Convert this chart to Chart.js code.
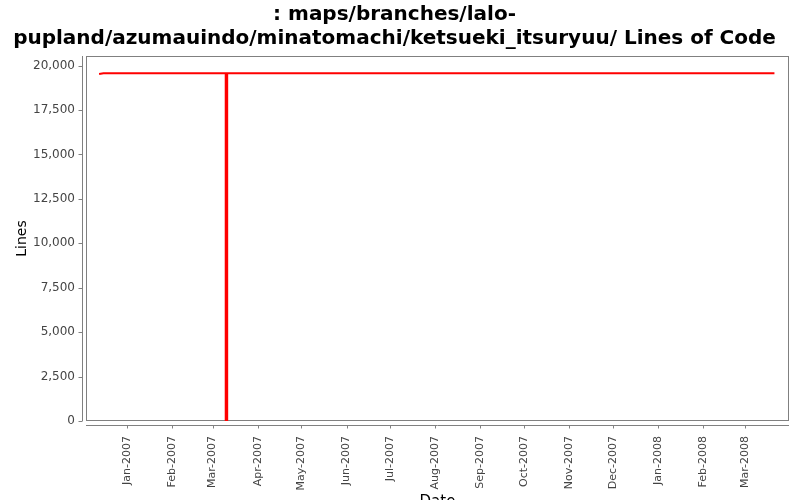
<!DOCTYPE html>
<html>
<head>
<meta charset="utf-8">
<script src="https://cdn.jsdelivr.net/npm/chart.js@4"></script>
<style>
  html, body { margin: 0; padding: 0; overflow: hidden; background: #fff; }
</style>
</head>
<body>
<canvas id="locChart" width="800" height="530"></canvas>
<script>

// chart data
const titleLines = [': maps/branches/lalo-', 'pupland/azumauindo/minatomachi/ketsueki_itsuryuu/ Lines of Code'];
const dates = ['2006-12-13', '2006-12-16', '2007-03-10', '2007-03-10', '2007-03-11', '2007-03-11', '2008-03-21'];
const lineCounts = [19530, 19570, 19570, 0, 0, 19570, 19570];

const monthTicks = ['2007-01-01', '2007-02-01', '2007-03-01', '2007-04-01', '2007-05-01', '2007-06-01',
  '2007-07-01', '2007-08-01', '2007-09-01', '2007-10-01', '2007-11-01', '2007-12-01',
  '2008-01-01', '2008-02-01', '2008-03-01'];
const monthLabels = ['Jan-2007', 'Feb-2007', 'Mar-2007', 'Apr-2007', 'May-2007', 'Jun-2007',
  'Jul-2007', 'Aug-2007', 'Sep-2007', 'Oct-2007', 'Nov-2007', 'Dec-2007',
  'Jan-2008', 'Feb-2008', 'Mar-2008'];
const yTicks = [0, 2500, 5000, 7500, 10000, 12500, 15000, 17500, 20000];

const xRange = ['2006-12-04', '2008-03-31'];
const yMax = 20540;


// days since 1 Jan 2007, so the x axis can stay linear (no date adapter)
function dayNum(s) {
  return (Date.parse(s) - Date.parse('2007-01-01')) / 86400000;
}

const tickDays = monthTicks.map(dayNum);
const points = dates.map((d, i) => ({ x: dayNum(d), y: lineCounts[i] }));

const gray = '#808080';
const labelColor = '#444444';

// JFreeChart style frame: outline + axes set a few px away from the plot
const plotFrame = {
  id: 'plotFrame',
  beforeDatasetsDraw(chart) {
    const { ctx, chartArea: a, scales } = chart;
    ctx.save();
    ctx.strokeStyle = gray;
    ctx.lineWidth = 1;
    ctx.strokeRect(a.left + 0.5, a.top + 0.5, a.right - a.left - 1, a.bottom - a.top - 1);

    // y axis
    const ax = a.left - 3.5;
    ctx.beginPath();
    ctx.moveTo(ax, a.top);
    ctx.lineTo(ax, a.bottom);
    yTicks.forEach(v => {
      const y = Math.round(scales.y.getPixelForValue(v)) + 0.5;
      ctx.moveTo(ax - 4, y);
      ctx.lineTo(ax, y);
    });
    ctx.stroke();

    // x axis
    const ay = a.bottom + 4.5;
    ctx.beginPath();
    ctx.moveTo(a.left, ay);
    ctx.lineTo(a.right, ay);
    tickDays.forEach(d => {
      const x = Math.round(scales.x.getPixelForValue(d)) + 0.5;
      ctx.moveTo(x, ay);
      ctx.lineTo(x, ay + 3);
    });
    ctx.stroke();
    ctx.restore();
  }
};

const ctx = document.getElementById('locChart').getContext('2d');
const locChart = new Chart(ctx, {
  type: 'line',
  data: {
    datasets: [{
      label: 'Lines',
      data: points,
      borderColor: '#ff0000',
      borderWidth: 2,
      pointRadius: 0,
      fill: false,
      tension: 0
    }]
  },
  options: {
    responsive: false,
    animation: false,
    layout: { padding: { left: 0, right: 11, top: 0, bottom: 0 } },
    plugins: {
      legend: { display: false },
      tooltip: { enabled: false },
      title: {
        display: true,
        text: titleLines,
        color: '#000',
        font: { family: 'DejaVu Sans', size: 20, weight: 'bold', lineHeight: 1.2 },
        padding: { top: 3, bottom: 5 }
      }
    },
    scales: {
      x: {
        type: 'linear',
        min: dayNum(xRange[0]),
        max: dayNum(xRange[1]),
        grid: { display: false, drawTicks: false },
        border: { display: false },
        afterBuildTicks: scale => { scale.ticks = tickDays.map(v => ({ value: v })); },
        afterFit: scale => { scale.height = 109; },
        ticks: {
          autoSkip: false,
          minRotation: 90,
          maxRotation: 90,
          padding: 15,
          color: labelColor,
          font: { family: 'DejaVu Sans', size: 11 },
          callback: v => monthLabels[tickDays.indexOf(v)]
        },
        title: {
          display: true,
          text: 'Date',
          color: '#000',
          font: { family: 'DejaVu Sans', size: 15 },
          padding: { top: 4, bottom: 19 }
        }
      },
      y: {
        min: 0,
        max: yMax,
        grid: { display: false, drawTicks: false },
        border: { display: false },
        afterBuildTicks: scale => { scale.ticks = yTicks.map(v => ({ value: v })); },
        afterFit: scale => { scale.width = 86; },
        ticks: {
          padding: 11,
          color: labelColor,
          font: { family: 'DejaVu Sans', size: 12 },
          callback: v => v.toLocaleString('en-US')
        },
        title: {
          display: true,
          text: 'Lines',
          color: '#000',
          font: { family: 'DejaVu Sans', size: 14 },
          padding: { top: 14 }
        }
      }
    }
  },
  plugins: [plotFrame]
});

</script>
</body>
</html>
